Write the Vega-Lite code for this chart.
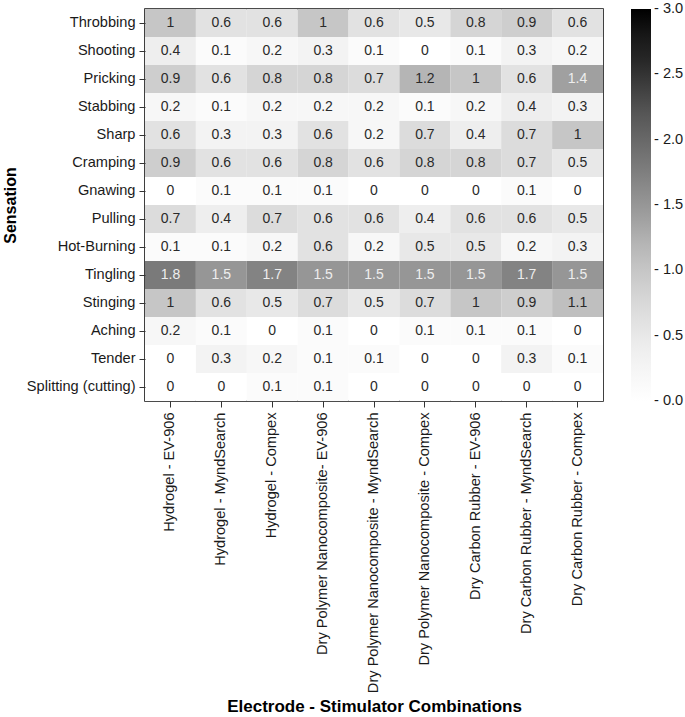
{
  "$schema": "https://vega.github.io/schema/vega-lite/v6.json",
  "width": 458,
  "height": 392,
  "padding": {"left": 2, "top": 9, "right": 5, "bottom": 2},
  "background": "white",
  "config": {
    "font": "Liberation Sans",
    "view": {"stroke": "#111111", "strokeWidth": 1.6},
    "axis": {"grid": false, "labelFont": "Liberation Sans", "titleFont": "Liberation Sans", "labelColor": "#1a1a1a", "titleColor": "#000000", "tickColor": "#333333", "domain": false}
  },
  "data": {
    "values": [
      {"s":"Throbbing","Hydrogel - EV-906":1,"Hydrogel - MyndSearch":0.6,"Hydrogel - Compex":0.6,"Dry Polymer Nanocomposite- EV-906":1,"Dry Polymer Nanocomposite - MyndSearch":0.6,"Dry Polymer Nanocomposite - Compex":0.5,"Dry Carbon Rubber - EV-906":0.8,"Dry Carbon Rubber - MyndSearch":0.9,"Dry Carbon Rubber - Compex":0.6},
      {"s":"Shooting","Hydrogel - EV-906":0.4,"Hydrogel - MyndSearch":0.1,"Hydrogel - Compex":0.2,"Dry Polymer Nanocomposite- EV-906":0.3,"Dry Polymer Nanocomposite - MyndSearch":0.1,"Dry Polymer Nanocomposite - Compex":0,"Dry Carbon Rubber - EV-906":0.1,"Dry Carbon Rubber - MyndSearch":0.3,"Dry Carbon Rubber - Compex":0.2},
      {"s":"Pricking","Hydrogel - EV-906":0.9,"Hydrogel - MyndSearch":0.6,"Hydrogel - Compex":0.8,"Dry Polymer Nanocomposite- EV-906":0.8,"Dry Polymer Nanocomposite - MyndSearch":0.7,"Dry Polymer Nanocomposite - Compex":1.2,"Dry Carbon Rubber - EV-906":1,"Dry Carbon Rubber - MyndSearch":0.6,"Dry Carbon Rubber - Compex":1.4},
      {"s":"Stabbing","Hydrogel - EV-906":0.2,"Hydrogel - MyndSearch":0.1,"Hydrogel - Compex":0.2,"Dry Polymer Nanocomposite- EV-906":0.2,"Dry Polymer Nanocomposite - MyndSearch":0.2,"Dry Polymer Nanocomposite - Compex":0.1,"Dry Carbon Rubber - EV-906":0.2,"Dry Carbon Rubber - MyndSearch":0.4,"Dry Carbon Rubber - Compex":0.3},
      {"s":"Sharp","Hydrogel - EV-906":0.6,"Hydrogel - MyndSearch":0.3,"Hydrogel - Compex":0.3,"Dry Polymer Nanocomposite- EV-906":0.6,"Dry Polymer Nanocomposite - MyndSearch":0.2,"Dry Polymer Nanocomposite - Compex":0.7,"Dry Carbon Rubber - EV-906":0.4,"Dry Carbon Rubber - MyndSearch":0.7,"Dry Carbon Rubber - Compex":1},
      {"s":"Cramping","Hydrogel - EV-906":0.9,"Hydrogel - MyndSearch":0.6,"Hydrogel - Compex":0.6,"Dry Polymer Nanocomposite- EV-906":0.8,"Dry Polymer Nanocomposite - MyndSearch":0.6,"Dry Polymer Nanocomposite - Compex":0.8,"Dry Carbon Rubber - EV-906":0.8,"Dry Carbon Rubber - MyndSearch":0.7,"Dry Carbon Rubber - Compex":0.5},
      {"s":"Gnawing","Hydrogel - EV-906":0,"Hydrogel - MyndSearch":0.1,"Hydrogel - Compex":0.1,"Dry Polymer Nanocomposite- EV-906":0.1,"Dry Polymer Nanocomposite - MyndSearch":0,"Dry Polymer Nanocomposite - Compex":0,"Dry Carbon Rubber - EV-906":0,"Dry Carbon Rubber - MyndSearch":0.1,"Dry Carbon Rubber - Compex":0},
      {"s":"Pulling","Hydrogel - EV-906":0.7,"Hydrogel - MyndSearch":0.4,"Hydrogel - Compex":0.7,"Dry Polymer Nanocomposite- EV-906":0.6,"Dry Polymer Nanocomposite - MyndSearch":0.6,"Dry Polymer Nanocomposite - Compex":0.4,"Dry Carbon Rubber - EV-906":0.6,"Dry Carbon Rubber - MyndSearch":0.6,"Dry Carbon Rubber - Compex":0.5},
      {"s":"Hot-Burning","Hydrogel - EV-906":0.1,"Hydrogel - MyndSearch":0.1,"Hydrogel - Compex":0.2,"Dry Polymer Nanocomposite- EV-906":0.6,"Dry Polymer Nanocomposite - MyndSearch":0.2,"Dry Polymer Nanocomposite - Compex":0.5,"Dry Carbon Rubber - EV-906":0.5,"Dry Carbon Rubber - MyndSearch":0.2,"Dry Carbon Rubber - Compex":0.3},
      {"s":"Tingling","Hydrogel - EV-906":1.8,"Hydrogel - MyndSearch":1.5,"Hydrogel - Compex":1.7,"Dry Polymer Nanocomposite- EV-906":1.5,"Dry Polymer Nanocomposite - MyndSearch":1.5,"Dry Polymer Nanocomposite - Compex":1.5,"Dry Carbon Rubber - EV-906":1.5,"Dry Carbon Rubber - MyndSearch":1.7,"Dry Carbon Rubber - Compex":1.5},
      {"s":"Stinging","Hydrogel - EV-906":1,"Hydrogel - MyndSearch":0.6,"Hydrogel - Compex":0.5,"Dry Polymer Nanocomposite- EV-906":0.7,"Dry Polymer Nanocomposite - MyndSearch":0.5,"Dry Polymer Nanocomposite - Compex":0.7,"Dry Carbon Rubber - EV-906":1,"Dry Carbon Rubber - MyndSearch":0.9,"Dry Carbon Rubber - Compex":1.1},
      {"s":"Aching","Hydrogel - EV-906":0.2,"Hydrogel - MyndSearch":0.1,"Hydrogel - Compex":0,"Dry Polymer Nanocomposite- EV-906":0.1,"Dry Polymer Nanocomposite - MyndSearch":0,"Dry Polymer Nanocomposite - Compex":0.1,"Dry Carbon Rubber - EV-906":0.1,"Dry Carbon Rubber - MyndSearch":0.1,"Dry Carbon Rubber - Compex":0},
      {"s":"Tender","Hydrogel - EV-906":0,"Hydrogel - MyndSearch":0.3,"Hydrogel - Compex":0.2,"Dry Polymer Nanocomposite- EV-906":0.1,"Dry Polymer Nanocomposite - MyndSearch":0.1,"Dry Polymer Nanocomposite - Compex":0,"Dry Carbon Rubber - EV-906":0,"Dry Carbon Rubber - MyndSearch":0.3,"Dry Carbon Rubber - Compex":0.1},
      {"s":"Splitting (cutting)","Hydrogel - EV-906":0,"Hydrogel - MyndSearch":0,"Hydrogel - Compex":0.1,"Dry Polymer Nanocomposite- EV-906":0.1,"Dry Polymer Nanocomposite - MyndSearch":0,"Dry Polymer Nanocomposite - Compex":0,"Dry Carbon Rubber - EV-906":0,"Dry Carbon Rubber - MyndSearch":0,"Dry Carbon Rubber - Compex":0}
    ]
  },
  "transform": [
    {"fold": ["Hydrogel - EV-906","Hydrogel - MyndSearch","Hydrogel - Compex","Dry Polymer Nanocomposite- EV-906","Dry Polymer Nanocomposite - MyndSearch","Dry Polymer Nanocomposite - Compex","Dry Carbon Rubber - EV-906","Dry Carbon Rubber - MyndSearch","Dry Carbon Rubber - Compex"], "as": ["combo","value"]}
  ],
  "encoding": {
    "x": {
      "field": "combo", "type": "nominal",
      "sort": ["Hydrogel - EV-906","Hydrogel - MyndSearch","Hydrogel - Compex","Dry Polymer Nanocomposite- EV-906","Dry Polymer Nanocomposite - MyndSearch","Dry Polymer Nanocomposite - Compex","Dry Carbon Rubber - EV-906","Dry Carbon Rubber - MyndSearch","Dry Carbon Rubber - Compex"],
      "scale": {"paddingInner": 0, "paddingOuter": 0},
      "axis": {"title": "Electrode - Stimulator Combinations", "titleFontSize": 17, "titleFontWeight": "bold", "titleY": 310, "titleBaseline": "alphabetic", "labelAngle": 270, "labelAlign": "right", "labelBaseline": "middle", "labelFontSize": 14.6, "labelPadding": 5, "tickSize": 6, "labelLimit": 400}
    },
    "y": {
      "field": "s", "type": "nominal",
      "sort": ["Throbbing","Shooting","Pricking","Stabbing","Sharp","Cramping","Gnawing","Pulling","Hot-Burning","Tingling","Stinging","Aching","Tender","Splitting (cutting)"],
      "scale": {"paddingInner": 0, "paddingOuter": 0},
      "axis": {"title": "Sensation", "titleFontSize": 16, "titleFontWeight": "bold", "labelFontSize": 14.6, "labelPadding": 4, "tickSize": 6, "labelLimit": 300, "titlePadding": 8}
    }
  },
  "layer": [
    {
      "mark": {"type": "rect"},
      "encoding": {
        "color": {
          "field": "value", "type": "quantitative",
          "scale": {"domain": [0, 3], "range": ["#ffffff","#f0f0f0","#d9d9d9","#bdbdbd","#969696","#737373","#525252","#252525","#000000"]},
          "legend": {"title": null, "orient": "right", "gradientLength": 392, "gradientThickness": 20, "values": [0, 0.5, 1, 1.5, 2, 2.5, 3], "labelExpr": "'- ' + format(datum.value, '.1f')", "labelFontSize": 14.6, "labelColor": "#1a1a1a", "labelOffset": 3, "labelBaseline": "middle", "offset": 28, "gradientStrokeWidth": 0, "direction": "vertical", "encode": {"labels": {"update": {"baseline": {"value": "middle"}}}}}
        }
      }
    },
    {
      "mark": {"type": "text", "fontSize": 14, "font": "Liberation Sans"},
      "encoding": {
        "text": {"field": "value", "type": "quantitative"},
        "color": {"condition": {"test": "datum.value >= 1.3", "value": "#eeeeee"}, "value": "#2a2a2a"}
      }
    }
  ]
}
